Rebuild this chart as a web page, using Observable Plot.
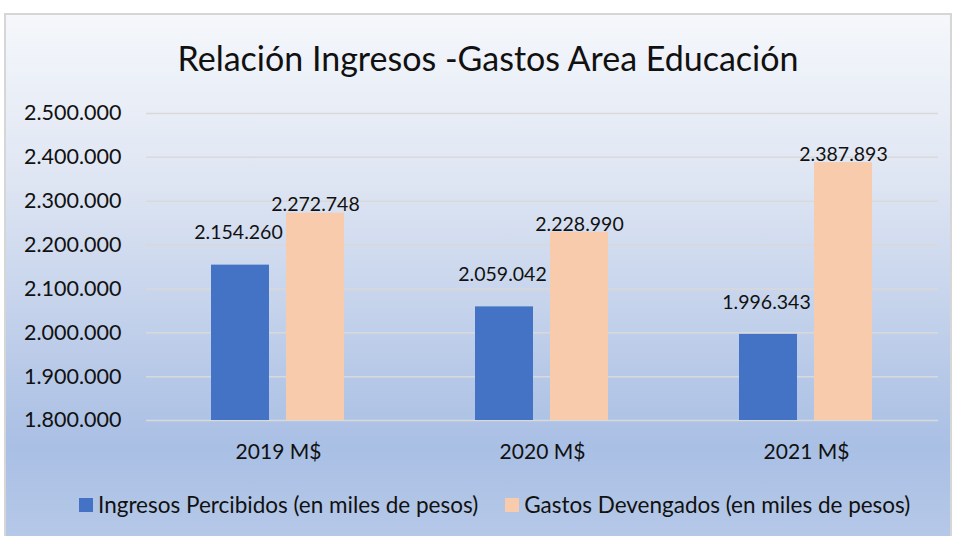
<!DOCTYPE html>
<html>
<head>
<meta charset="utf-8">
<script src="https://cdn.jsdelivr.net/npm/d3@7"></script>
<script src="https://cdn.jsdelivr.net/npm/@observablehq/plot@0.6"></script>
<style>
  body { margin: 0; background: #fff; }
  #wrap { position: relative; width: 955px; height: 536px; overflow: hidden; font-family: Lato, "Open Sans", sans-serif; color: #111; }
  #panel { position: absolute; left: 4px; top: 13px; width: 944px; height: 540px; border: 2px solid #d6d6d6;
           background: linear-gradient(to bottom, #f5f7fb 0%, #dfe6f3 30%, #b9cae8 65%, #a9bfe4 80%, #b8cae9 100%); }
  #title { position: absolute; left: 0; width: 976px; top: 36px; text-align: center; font-size: 34px; line-height: 44px; }
  #chart { position: absolute; left: 0; top: 0; }
  #legend { position: absolute; top: 492px; left: 79px; display: flex; align-items: center; font-size: 22.5px; line-height: 26px; white-space: nowrap; }
  .sw { display: inline-block; width: 14px; height: 14px; margin-right: 5px; }
  .item { display: flex; align-items: center; margin-right: 27px; }
</style>
</head>
<body>
<div id="wrap">
  <div id="panel"></div>
  <div id="title">Relación Ingresos -Gastos Area Educación</div>
  <div id="chart"></div>
  <div id="legend"></div>
</div>
<script>
const years = ["2019 M$", "2020 M$", "2021 M$"];
const series = ["Ingresos Percibidos (en miles de pesos)", "Gastos Devengados (en miles de pesos)"];
const ingresos = [2154260, 2059042, 1996343];
const gastos = [2272748, 2228990, 2387893];
const yTicks = [1800000, 1900000, 2000000, 2100000, 2200000, 2300000, 2400000, 2500000];
const colors = ["#4472c4", "#f8cbad"];

const fmt = d3.formatLocale({decimal: ",", thousands: ".", grouping: [3], currency: ["$", ""]}).format(",d");

const data = [];
years.forEach((yr, i) => {
  data.push({year: yr, series: series[0], value: ingresos[i]});
  data.push({year: yr, series: series[1], value: gastos[i]});
});

const chart = Plot.plot({
  width: 955,
  height: 536,
  marginLeft: 146,
  marginRight: 17,
  marginTop: 113,
  marginBottom: 116,
  style: {background: "transparent", fontFamily: "Lato, 'Open Sans', sans-serif", color: "#111", overflow: "visible"},
  fx: {domain: years, padding: 0, label: null},
  x: {domain: series, paddingInner: 0.224, paddingOuter: 0.849, axis: null},
  y: {domain: [1800000, 2500000], label: null},
  color: {domain: series, range: colors},
  marks: [
    Plot.gridY(yTicks, {stroke: "#d9d9d9", strokeOpacity: 1, strokeWidth: 1.5}),
    Plot.barY(data, {fx: "year", x: "series", y1: 1800000, y2: "value", fill: "series"}),
    Plot.text(data.filter(d => d.series === series[0]), {fx: "year", x: "series", y: "value", text: d => fmt(d.value), dy: -32, dx: -2, fontSize: 19.5, fill: "#111"}),
    Plot.text(data.filter(d => d.series === series[1]), {fx: "year", x: "series", y: "value", text: d => fmt(d.value), dy: -8, fontSize: 19.5, fill: "#111"}),
    Plot.axisY(yTicks, {tickFormat: fmt, tickSize: 0, tickPadding: 25, fontSize: 21.5, label: null}),
    Plot.axisFx({anchor: "bottom", tickSize: 0, tickPadding: 24, fontSize: 21, label: null})
  ]
});
document.getElementById("chart").appendChild(chart);

const legend = document.getElementById("legend");
series.forEach((s, i) => {
  const item = document.createElement("div");
  item.className = "item";
  const sw = document.createElement("span");
  sw.className = "sw";
  sw.style.background = colors[i];
  const t = document.createElement("span");
  t.textContent = s;
  item.appendChild(sw);
  item.appendChild(t);
  legend.appendChild(item);
});
</script>
</body>
</html>
